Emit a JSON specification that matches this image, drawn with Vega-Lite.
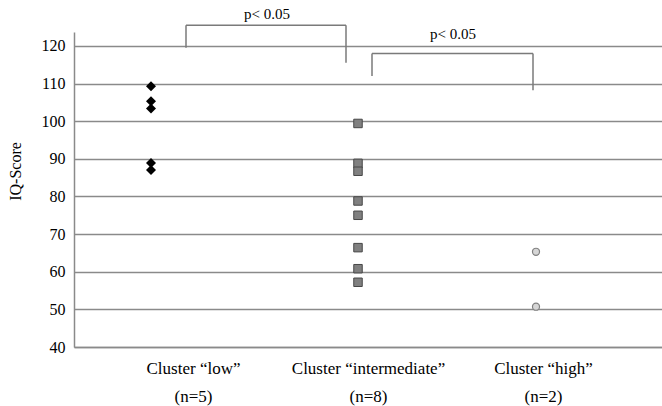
{
  "$schema": "https://vega.github.io/schema/vega-lite/v6.json",
  "width": 588,
  "height": 315,
  "autosize": {"type": "none"},
  "padding": {"left": 74, "top": 32, "right": 0, "bottom": 59},
  "background": "white",
  "config": {"view": {"stroke": null}, "font": "Liberation Serif", "axisY": {"tickCount": 9, "labelOverlap": false}},
  "datasets": {
    "points": [
      {"cluster": "Cluster “low”|(n=5)", "iq": 109.3},
      {"cluster": "Cluster “low”|(n=5)", "iq": 105.3},
      {"cluster": "Cluster “low”|(n=5)", "iq": 103.4},
      {"cluster": "Cluster “low”|(n=5)", "iq": 88.9},
      {"cluster": "Cluster “low”|(n=5)", "iq": 87.0},
      {"cluster": "Cluster “intermediate”|(n=8)", "iq": 99.4},
      {"cluster": "Cluster “intermediate”|(n=8)", "iq": 88.8},
      {"cluster": "Cluster “intermediate”|(n=8)", "iq": 86.7},
      {"cluster": "Cluster “intermediate”|(n=8)", "iq": 78.8},
      {"cluster": "Cluster “intermediate”|(n=8)", "iq": 75.0},
      {"cluster": "Cluster “intermediate”|(n=8)", "iq": 66.4},
      {"cluster": "Cluster “intermediate”|(n=8)", "iq": 60.8},
      {"cluster": "Cluster “intermediate”|(n=8)", "iq": 57.2},
      {"cluster": "Cluster “high”|(n=2)", "iq": 65.3},
      {"cluster": "Cluster “high”|(n=2)", "iq": 50.7}
    ],
    "brackets": [
      {"id": 1, "from": "Cluster “low”|(n=5)", "to": "Cluster “intermediate”|(n=8)", "top": 125.5, "leftEnd": 119.5, "rightEnd": 115.5, "label": "p< 0.05", "labelY": 128.4},
      {"id": 2, "from": "Cluster “intermediate”|(n=8)", "to": "Cluster “high”|(n=2)", "top": 118, "leftEnd": 112, "rightEnd": 108.2, "label": "p< 0.05", "labelY": 123.1}
    ]
  },
  "layer": [
    {
      "data": {"name": "points"},
      "transform": [{"filter": "datum.cluster === 'Cluster “low”|(n=5)'"}],
      "mark": {"type": "point", "shape": "diamond", "filled": true, "color": "#000000", "size": 100, "opacity": 1, "xOffset": -42},
      "encoding": {
        "x": {
          "field": "cluster", "type": "nominal",
          "scale": {"type": "point", "domain": ["Cluster “low”|(n=5)", "Cluster “intermediate”|(n=8)", "Cluster “high”|(n=2)"], "padding": 0.68},
          "axis": {"title": null, "labelExpr": "split(datum.label, '|')", "labelAngle": 0, "labelFontSize": 17, "labelColor": "#000000", "labelLineHeight": 28, "labelPadding": 13, "labelOverlap": false, "labelBound": false, "labelLimit": 0, "ticks": false, "grid": false, "domainColor": "#8a8a8a", "domainWidth": 1.5}
        },
        "y": {
          "field": "iq", "type": "quantitative",
          "scale": {"domain": [40, 123.7], "nice": false, "zero": false},
          "axis": {"title": "IQ-Score", "values": [40, 50, 60, 70, 80, 90, 100, 110, 120], "tickCount": 9, "labelOverlap": false, "grid": true, "gridColor": "#8a8a8a", "gridWidth": 1.5, "domainColor": "#8a8a8a", "domainWidth": 1.5, "ticks": false, "labelFontSize": 16, "labelColor": "#000000", "labelPadding": 9, "titleFontSize": 16, "titleFontWeight": "normal", "titleColor": "#000000", "titleX": -51, "titleY": 139}
        }
      }
    },
    {
      "data": {"name": "points"},
      "transform": [{"filter": "datum.cluster === 'Cluster “intermediate”|(n=8)'"}],
      "mark": {"type": "point", "shape": "square", "filled": true, "fill": "#808080", "stroke": "#474747", "strokeWidth": 1, "size": 72, "opacity": 1, "xOffset": -10},
      "encoding": {
        "x": {"field": "cluster", "type": "nominal"},
        "y": {"field": "iq", "type": "quantitative"}
      }
    },
    {
      "data": {"name": "points"},
      "transform": [{"filter": "datum.cluster === 'Cluster “high”|(n=2)'"}],
      "mark": {"type": "point", "shape": "circle", "filled": true, "fill": "#d6d6d6", "stroke": "#808080", "strokeWidth": 1.2, "size": 50, "opacity": 1, "xOffset": -7},
      "encoding": {
        "x": {"field": "cluster", "type": "nominal"},
        "y": {"field": "iq", "type": "quantitative"}
      }
    },
    {
      "data": {"name": "brackets"},
      "transform": [{"filter": "datum.id === 1"}],
      "layer": [
        {
          "mark": {"type": "rule", "color": "#7a7a7a", "strokeWidth": 1.5, "xOffset": -7, "x2Offset": -22},
          "encoding": {
            "x": {"field": "from", "type": "nominal"},
            "x2": {"field": "to"},
            "y": {"field": "top", "type": "quantitative"}
          }
        },
        {
          "mark": {"type": "rule", "color": "#7a7a7a", "strokeWidth": 1.5, "xOffset": -7},
          "encoding": {
            "x": {"field": "from", "type": "nominal"},
            "y": {"field": "top", "type": "quantitative"},
            "y2": {"field": "leftEnd"}
          }
        },
        {
          "mark": {"type": "rule", "color": "#7a7a7a", "strokeWidth": 1.5, "xOffset": -22},
          "encoding": {
            "x": {"field": "to", "type": "nominal"},
            "y": {"field": "top", "type": "quantitative"},
            "y2": {"field": "rightEnd"}
          }
        },
        {
          "mark": {"type": "text", "fontSize": 15, "color": "#000000", "dx": 74, "baseline": "middle", "align": "center"},
          "encoding": {
            "x": {"field": "from", "type": "nominal"},
            "y": {"field": "labelY", "type": "quantitative"},
            "text": {"field": "label"}
          }
        }
      ]
    },
    {
      "data": {"name": "brackets"},
      "transform": [{"filter": "datum.id === 2"}],
      "layer": [
        {
          "mark": {"type": "rule", "color": "#7a7a7a", "strokeWidth": 1.5, "xOffset": 4, "x2Offset": -10},
          "encoding": {
            "x": {"field": "from", "type": "nominal"},
            "x2": {"field": "to"},
            "y": {"field": "top", "type": "quantitative"}
          }
        },
        {
          "mark": {"type": "rule", "color": "#7a7a7a", "strokeWidth": 1.5, "xOffset": 4},
          "encoding": {
            "x": {"field": "from", "type": "nominal"},
            "y": {"field": "top", "type": "quantitative"},
            "y2": {"field": "leftEnd"}
          }
        },
        {
          "mark": {"type": "rule", "color": "#7a7a7a", "strokeWidth": 1.5, "xOffset": -10},
          "encoding": {
            "x": {"field": "to", "type": "nominal"},
            "y": {"field": "top", "type": "quantitative"},
            "y2": {"field": "rightEnd"}
          }
        },
        {
          "mark": {"type": "text", "fontSize": 15, "color": "#000000", "dx": 85, "baseline": "middle", "align": "center"},
          "encoding": {
            "x": {"field": "from", "type": "nominal"},
            "y": {"field": "labelY", "type": "quantitative"},
            "text": {"field": "label"}
          }
        }
      ]
    }
  ]
}
